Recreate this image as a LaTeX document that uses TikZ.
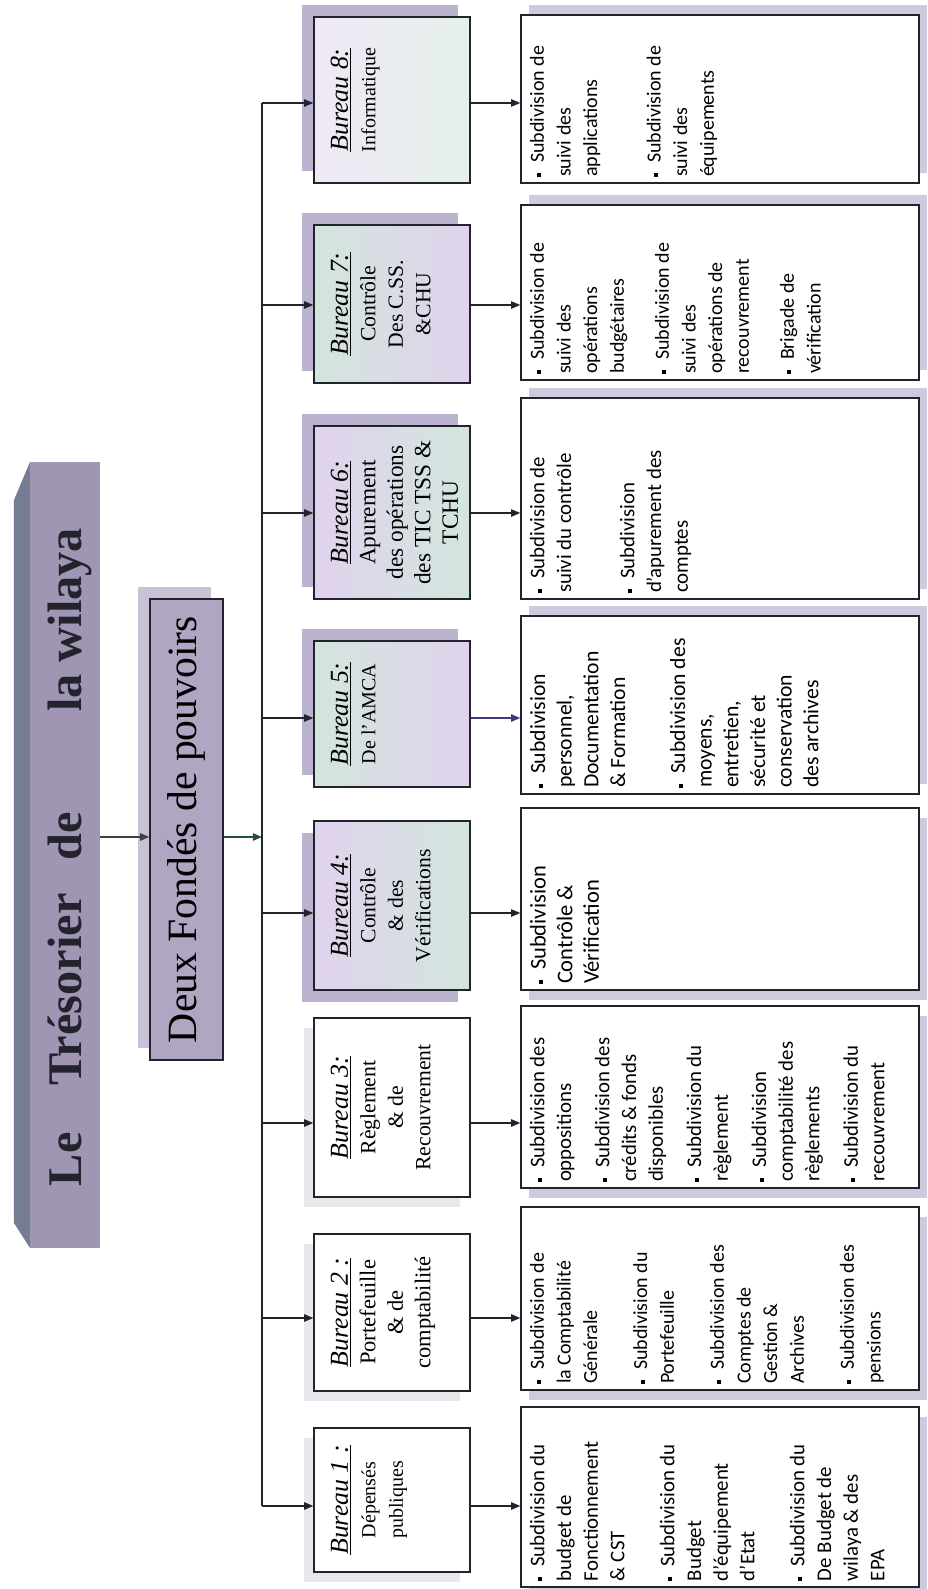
\documentclass[tikz,border=0pt]{standalone}
\usepackage{fontspec}
\setmainfont{Liberation Serif}
\newfontfamily\subfont{Carlito}
\usetikzlibrary{arrows.meta}

\definecolor{titleface}{RGB}{160,150,180}
\definecolor{titlebevel}{RGB}{118,124,146}
\definecolor{deuxface}{RGB}{176,166,194}
\definecolor{deuxshade}{RGB}{200,194,214}
\definecolor{lavender1}{RGB}{224,210,238}
\definecolor{mint1}{RGB}{210,230,220}
\definecolor{boxshade}{RGB}{186,178,206}
\definecolor{faintshade}{RGB}{232,231,235}
\definecolor{subshade}{RGB}{208,202,222}
\definecolor{inkdark}{RGB}{35,35,45}
\definecolor{arrgreen}{RGB}{38,78,58}
\definecolor{arrviolet}{RGB}{70,55,125}

% 1 px of the chart
\newlength\pxu
\setlength\pxu{0.6pt}

% bureau box: width, heading, size, lines
\newcommand{\bureautext}[4]{%
  \parbox[c][156\pxu][t]{#1\pxu}{\centering
    {\fontsize{15.5}{16}\selectfont\underline{\textit{#2}}}\rule{0pt}{34\pxu}\\
    \fontsize{#3}{16.5}\selectfont #4}}
% subdivision box: width, size, items
\newcommand{\subtext}[3]{%
  \parbox[c][398\pxu][t]{#1\pxu}{\subfont\fontsize{#2}{16}\selectfont
    \raggedright\leftskip=6\pxu\vspace*{9\pxu}#3}}
\newcommand{\sdv}[2][0pt]{\par\vspace{#1}\noindent\hangindent=14\pxu\hangafter=1
  \makebox[14\pxu][l]{\rule[1.5pt]{4\pxu}{4\pxu}}#2}

\tikzset{
  titlebar/.style={fill=titleface, inner sep=0pt},
  deuxbox/.style={draw=inkdark, line width=0.9pt, fill=deuxface, inner sep=0pt},
  bureaubox/.style={draw=inkdark, line width=0.9pt, inner sep=0pt, left color=lavender1, right color=mint1},
  plainbox/.style={draw=inkdark, line width=0.9pt, inner sep=0pt, fill=white},
  conn/.style={line width=0.7pt, inkdark, -{Triangle[length=5.5pt,width=4.5pt]}},
}

\begin{document}
\begin{tikzpicture}[x=0.6pt, y=0.6pt, rotate=90, transform shape]
  \useasboundingbox (0,0) rectangle (1589,927);

  % Le Tresorier (bevelled banner)
  \fill[titlebevel] (341,897) -- (366,913) -- (1089,913) -- (1127,897) -- cycle;
  \node[titlebar, minimum width=786*\pxu, minimum height=70*\pxu] (tface) at (734,862) {};
  \node[anchor=base, text=inkdark, font=\fontsize{29}{34}\selectfont\bfseries] (title) at (732,845)
    {Le\hspace{28pt}Trésorier\hspace{20pt}de\hspace{60pt}la wilaya};

  % Deux Fondes de pouvoirs
  \fill[deuxshade] (541,716) rectangle (1002,789);
  \node[deuxbox, minimum width=461*\pxu, minimum height=73*\pxu, font=\fontsize{25}{28}\selectfont] (deux) at (759.5,740.5) {Deux Fondés de pouvoirs};

  \coordinate (fork) at (752,665);
  \draw[conn, black!75] (fork |- tface.south) -- (fork |- deux.north);
  \draw[conn, arrgreen] (fork |- deux.south) -- (fork);

  % trunk
  \coordinate (tk1) at (83,665);
  \coordinate (tk2) at (271,665);
  \coordinate (tk3) at (466,665);
  \coordinate (tk4) at (676,665);
  \coordinate (tk5) at (871,665);
  \coordinate (tk6) at (1076,665);
  \coordinate (tk7) at (1284,665);
  \coordinate (tk8) at (1486,665);
  \draw[line width=0.7pt, inkdark] (tk1) -- (tk8);

  % bureaux
  \fill[faintshade] (7,467) rectangle (151,623);
  \node[plainbox] (b1) at (89,535) {\bureautext{144}{Bureau 1 :}{12}{Dépensés\\publiques}};
  \fill[faintshade] (188,467) rectangle (345,623);
  \node[plainbox] (b2) at (276.5,535) {\bureautext{157}{Bureau 2 :}{13.5}{Portefeuille\\\& de\\comptabilité}};
  \fill[faintshade] (382,467) rectangle (561,623);
  \node[plainbox] (b3) at (481.5,535) {\bureautext{179}{Bureau 3:}{13}{Règlement\\\& de\\Recouvrement}};
  \fill[boxshade] (587,469) rectangle (756,625);
  \node[bureaubox] (b4) at (683.5,535) {\bureautext{169}{Bureau 4:}{13}{Contrôle\\\& des\\Vérifications}};
  \fill[boxshade] (814,469) rectangle (960,625);
  \node[bureaubox, left color=mint1, right color=lavender1] (b5) at (875,535) {\bureautext{146}{Bureau 5:}{12}{De l’AMCA}};
  \fill[boxshade] (1002,469) rectangle (1175,625);
  \node[bureaubox] (b6) at (1076.5,535) {\bureautext{173}{Bureau 6:}{14}{Apurement\\des opérations\\des TIC TSS \&\\TCHU}};
  \fill[boxshade] (1218,469) rectangle (1376,625);
  \node[bureaubox, left color=mint1, right color=lavender1] (b7) at (1285,535) {\bureautext{158}{Bureau 7:}{13}{Contrôle\\Des C.SS.\\\&CHU}};
  \fill[boxshade] (1418,469) rectangle (1584,625);
  \node[bureaubox, left color=lavender1!50, right color=mint1!60] (b8) at (1489,535) {\bureautext{166}{Bureau 8:}{12}{Informatique}};

  % subdivisions
  \fill[subshade] (-8,0) rectangle (172,398);
  \node[plainbox] (s1) at (92,207) {\subtext{180}{12.5}{%
    \sdv{Subdivision du\\budget de\\Fonctionnement\\\& CST}
    \sdv[14pt]{Subdivision du\\Budget\\d’équipement\\d’Etat}
    \sdv[14pt]{Subdivision du\\De Budget de\\wilaya \& des\\EPA}}};
  \fill[subshade] (189,0) rectangle (372,398);
  \node[plainbox] (s2) at (290.5,207) {\subtext{183}{12}{%
    \sdv{Subdivision de\\la Comptabilité\\Générale}
    \sdv[14pt]{Subdivision du\\Portefeuille}
    \sdv[14pt]{Subdivision des\\Comptes de\\Gestion \&\\Archives}
    \sdv[14pt]{Subdivision des\\pensions}}};
  \fill[subshade] (391,0) rectangle (573,398);
  \node[plainbox] (s3) at (492,207) {\subtext{182}{12.5}{%
    \sdv{Subdivision des\\oppositions}
    \sdv[7pt]{Subdivision des\\crédits \& fonds\\disponibles}
    \sdv[7pt]{Subdivision du\\règlement}
    \sdv[7pt]{Subdivision\\comptabilité des\\règlements}
    \sdv[7pt]{Subdivision du\\recouvrement}}};
  \fill[subshade] (589,0) rectangle (771,398);
  \node[plainbox] (s4) at (690,207) {\subtext{182}{13.5}{%
    \sdv{Subdivision\\Contrôle \&\\Vérification}}};
  \fill[subshade] (805,0) rectangle (983,398);
  \node[plainbox] (s5) at (884,207) {\subtext{178}{13}{%
    \sdv{Subdivision\\personnel,\\Documentation\\\& Formation}
    \sdv[20pt]{Subdivision des\\moyens,\\entretien,\\sécurité et\\conservation\\des archives}}};
  \fill[subshade] (1000,0) rectangle (1201,398);
  \node[plainbox] (s6) at (1090.5,207) {\subtext{201}{12.5}{%
    \sdv{Subdivision de\\suivi du contrôle}
    \sdv[22pt]{Subdivision\\d’apurement des\\comptes}}};
  \fill[subshade] (1219,0) rectangle (1394,398);
  \node[plainbox] (s7) at (1296.5,207) {\subtext{175}{12}{%
    \sdv{Subdivision de\\suivi des\\opérations\\budgétaires}
    \sdv[11pt]{Subdivision de\\suivi des\\opérations de\\recouvrement}
    \sdv[11pt]{Brigade de\\vérification}}};
  \fill[subshade] (1416,0) rectangle (1584,398);
  \node[plainbox] (s8) at (1490,207) {\subtext{168}{12}{%
    \sdv{Subdivision de\\suivi des\\applications}
    \sdv[22pt]{Subdivision de\\suivi des\\équipements}}};

  % trunk -> bureau -> subdivision
  \draw[conn] (tk1) -- (tk1 |- b1.north);
  \draw[conn] (tk2) -- (tk2 |- b2.north);
  \draw[conn] (tk3) -- (tk3 |- b3.north);
  \draw[conn] (tk4) -- (tk4 |- b4.north);
  \draw[conn] (tk5) -- (tk5 |- b5.north);
  \draw[conn] (tk6) -- (tk6 |- b6.north);
  \draw[conn] (tk7) -- (tk7 |- b7.north);
  \draw[conn] (tk8) -- (tk8 |- b8.north);
  \draw[conn] (tk1 |- b1.south) -- (tk1 |- s1.north);
  \draw[conn] (tk2 |- b2.south) -- (tk2 |- s2.north);
  \draw[conn] (tk3 |- b3.south) -- (tk3 |- s3.north);
  \draw[conn] (tk4 |- b4.south) -- (tk4 |- s4.north);
  \draw[conn, arrviolet] (tk5 |- b5.south) -- (tk5 |- s5.north);
  \draw[conn] (tk6 |- b6.south) -- (tk6 |- s6.north);
  \draw[conn] (tk7 |- b7.south) -- (tk7 |- s7.north);
  \draw[conn] (tk8 |- b8.south) -- (tk8 |- s8.north);
\end{tikzpicture}
\end{document}
